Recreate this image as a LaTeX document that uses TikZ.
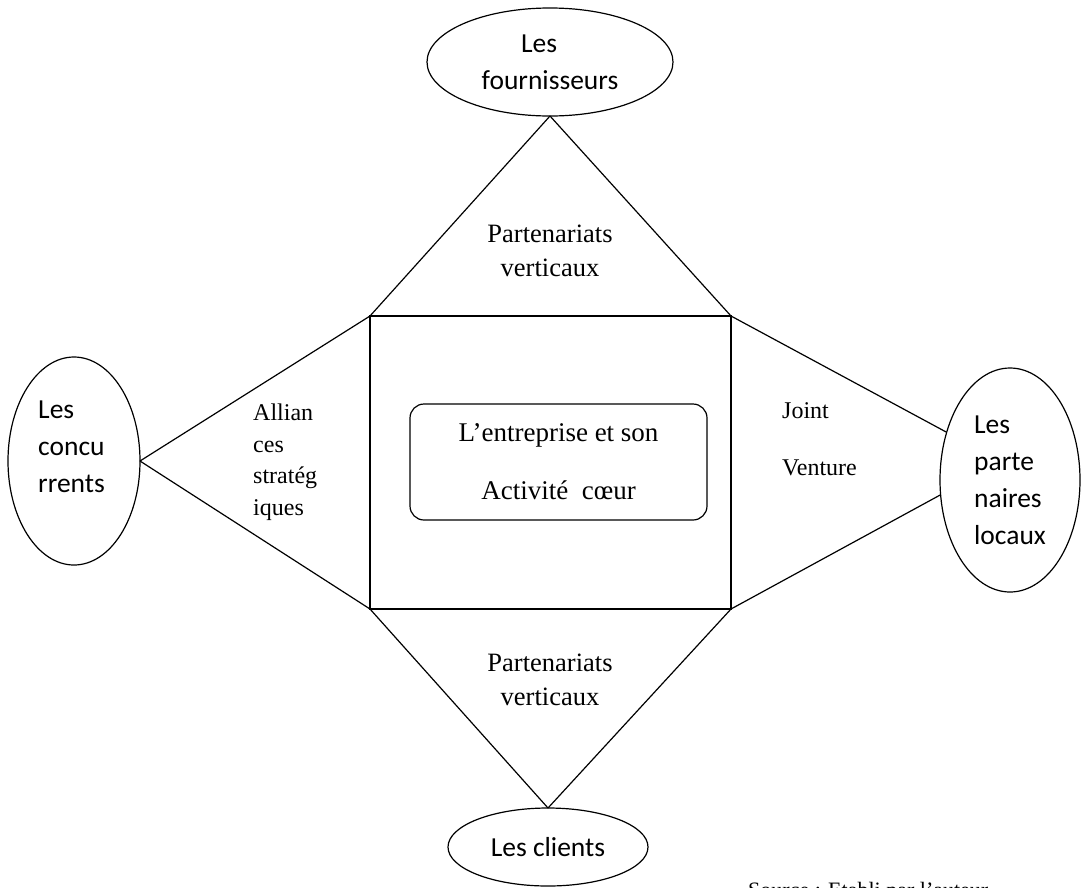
\documentclass[tikz,border=0pt]{standalone}
\usepackage{fontspec}
\setmainfont{Liberation Serif}
\newfontfamily\calibfont{Carlito}
\usetikzlibrary{shapes.geometric}
\tikzset{
  acteur/.style={draw, ellipse, line width=1.2pt, inner sep=0pt, outer sep=0pt, align=center, font=\calibfont\fontsize{27.5}{37}\selectfont},
  acteurtxt/.style={align=left, inner sep=0pt, anchor=north west, font=\calibfont\fontsize{27.5}{37}\selectfont},
  lien/.style={line width=1.2pt},
  etiq/.style={align=center, inner sep=0pt, font=\fontsize{26.5}{34}\selectfont},
  petit/.style={align=left, inner sep=0pt, anchor=north west, font=\fontsize{24}{31.5}\selectfont},
}

\begin{document}
\begin{tikzpicture}[x=1pt, y=-1pt]
  \useasboundingbox (0,0) rectangle (1086,887);
  % le carre central
  \node[draw, line width=1.5pt, minimum width=361pt, minimum height=293pt, inner sep=0pt, outer sep=0pt] (carre) at (550.5,462.5) {};
  \node[draw, line width=1.2pt, rounded corners=14pt, minimum width=297pt, minimum height=116pt, align=center, font=\fontsize{27}{58}\selectfont] (ent) at (558.5,462) {L'entreprise et son\\Activité\ \ cœur};
  % les acteurs
  \node[acteur, minimum width=246pt, minimum height=108pt] (fourn) at (550,62) {Les\hspace*{22pt}\\fournisseurs};
  \node[acteur, minimum width=132pt, minimum height=208pt] (conc) at (74,461) {};
  \node[acteurtxt] (conctxt) at (38,400.5) {Les\\concu\\rrents};
  \node[acteur, minimum width=140pt, minimum height=224pt, align=left] (parten) at (1010,480) {Les\\parte\\naires\\locaux};
  \node[acteur, minimum width=200pt, minimum height=78pt] (clients) at (548,847) {Les clients};
  % les liens
  \draw[lien] (fourn.south) -- (carre.north west);
  \draw[lien] (fourn.south) -- (carre.north east);
  \draw[lien] (conc.east) -- (carre.north west);
  \draw[lien] (conc.east) -- (carre.south west);
  \draw[lien] (clients.north) -- (carre.south west);
  \draw[lien] (clients.north) -- (carre.south east);
  \draw[lien] (carre.north east) -- (parten.143);
  \draw[lien] (carre.south east) -- (parten.192);
  % les types de partenariat
  \node[etiq] (pvhaut) at (550,251) {Partenariats\\verticaux};
  \node[etiq] (pvbas) at (550,680) {Partenariats\\verticaux};
  \node[petit] (alliance) at (253,404) {Allian\\ces\\stratég\\iques};
  \node[petit] (jv) at (782,402) {Joint\\[25.5pt]Venture};
  \node[anchor=base west, inner sep=0pt, font=\fontsize{22}{26}\selectfont] (source) at (748,897.5) {Source : Etabli par l'auteur};
\end{tikzpicture}
\end{document}
